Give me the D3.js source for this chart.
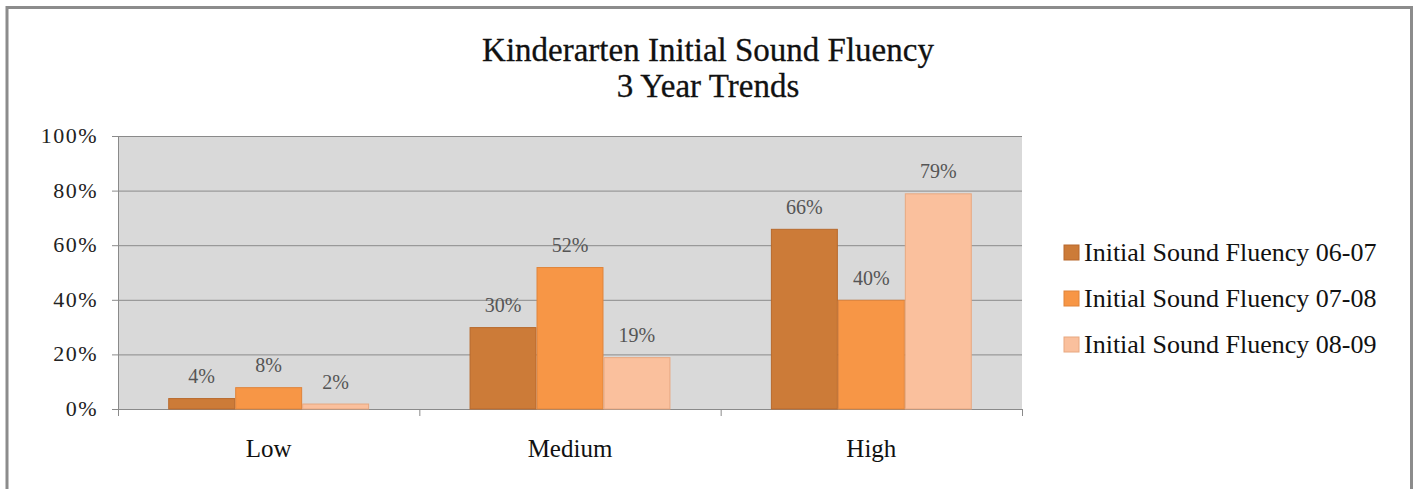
<!DOCTYPE html>
<html>
<head>
<meta charset="utf-8">
<script src="https://cdn.jsdelivr.net/npm/d3@7"></script>
<style>
body { margin: 0; background: #fff; }
text { font-family: "Liberation Serif", "DejaVu Serif", serif; }
</style>
</head>
<body>
<div id="chart"></div>
<script>
// data
var categories = ["Low", "Medium", "High"];
var seriesNames = ["Initial Sound Fluency 06-07", "Initial Sound Fluency 07-08", "Initial Sound Fluency 08-09"];
var values0607 = [4, 30, 66];
var values0708 = [8, 52, 40];
var values0809 = [2, 19, 79];
var yTicks = [0, 20, 40, 60, 80, 100];

var colors = ["#cc7b38", "#f79646", "#fac09d"];
var strokes = ["#b8692c", "#e0843a", "#e8a880"];

var svgWidth = 1416;
var svgHeight = 489;

var margin = {top: 136, left: 118, right: 394, bottom: 80};
var width = svgWidth - margin.left - margin.right;
var height = 409 - margin.top;

var svg = d3.select("#chart")
    .append("svg")
    .attr("width", svgWidth)
    .attr("height", svgHeight);

// outer frame (bottom edge runs off the picture)
svg.append("path")
    .attr("d", "M7,495 L7,7.5 L1411.5,7.5 L1411.5,495")
    .attr("fill", "none")
    .attr("stroke", "#8c8c8c")
    .attr("stroke-width", 3);

// title
var title = svg.append("text")
    .attr("x", 708)
    .attr("text-anchor", "middle")
    .attr("font-size", 33)
    .attr("fill", "#111")
    .attr("stroke", "#111")
    .attr("stroke-width", 0.3);
title.append("tspan").attr("x", 708).attr("y", 61).text("Kinderarten Initial Sound Fluency");
title.append("tspan").attr("x", 708).attr("y", 97).text("3 Year Trends");

var chartGroup = svg.append("g")
    .attr("transform", `translate(${margin.left}, ${margin.top})`);

var x0 = d3.scaleBand()
    .domain(categories)
    .range([0, width]);

var x1 = d3.scaleBand()
    .domain(seriesNames)
    .range([0, x0.bandwidth()])
    .paddingOuter(0.75);

var y = d3.scaleLinear()
    .domain([0, 100])
    .range([height, 0]);

// plot background
chartGroup.append("rect")
    .attr("x", 0)
    .attr("y", 0)
    .attr("width", width)
    .attr("height", height)
    .attr("fill", "#d9d9d9");

// gridlines
chartGroup.selectAll(".grid")
    .data(yTicks)
    .enter()
    .append("line")
    .attr("x1", -6)
    .attr("x2", width)
    .attr("y1", d => y(d) + 0.5)
    .attr("y2", d => y(d) + 0.5)
    .attr("stroke", "#8a8a8a")
    .attr("stroke-width", 1);

// y axis labels
chartGroup.selectAll(".ylab")
    .data(yTicks)
    .enter()
    .append("text")
    .attr("x", -20)
    .attr("y", d => y(d) + 7)
    .attr("text-anchor", "end")
    .attr("font-size", 22)
    .attr("letter-spacing", 1.5)
    .attr("fill", "#222")
    .text(d => d + "%");

// y axis line
chartGroup.append("line")
    .attr("x1", 0.5).attr("x2", 0.5)
    .attr("y1", 0).attr("y2", height)
    .attr("stroke", "#8a8a8a");

// x axis tick marks
var xTickPos = categories.map(c => x0(c)).concat([width]);
chartGroup.selectAll(".xtick")
    .data(xTickPos)
    .enter()
    .append("line")
    .attr("x1", d => d + 0.5)
    .attr("x2", d => d + 0.5)
    .attr("y1", height)
    .attr("y2", height + 7)
    .attr("stroke", "#8a8a8a");

// x labels
chartGroup.selectAll(".xlab")
    .data(categories)
    .enter()
    .append("text")
    .attr("x", d => x0(d) + x0.bandwidth() / 2)
    .attr("y", height + 48)
    .attr("text-anchor", "middle")
    .attr("font-size", 25)
    .attr("fill", "#111")
    .text(d => d);

var allSeries = [values0607, values0708, values0809];

var groups = chartGroup.selectAll(".cat")
    .data(categories)
    .enter()
    .append("g")
    .attr("transform", d => `translate(${x0(d)}, 0)`);

groups.selectAll("rect")
    .data((c, i) => allSeries.map((vals, s) => ({s: s, name: seriesNames[s], v: vals[i]})))
    .enter()
    .append("rect")
    .attr("x", d => x1(d.name) + 0.5)
    .attr("y", d => y(d.v) + 0.5)
    .attr("width", x1.bandwidth() - 1)
    .attr("height", d => height - y(d.v) - 0.5)
    .attr("fill", d => colors[d.s])
    .attr("stroke", d => strokes[d.s])
    .attr("stroke-width", 1);

groups.selectAll(".vlab")
    .data((c, i) => allSeries.map((vals, s) => ({s: s, name: seriesNames[s], v: vals[i]})))
    .enter()
    .append("text")
    .attr("x", d => x1(d.name) + x1.bandwidth() / 2)
    .attr("y", d => y(d.v) - 15)
    .attr("text-anchor", "middle")
    .attr("font-size", 20)
    .attr("fill", "#555")
    .text(d => d.v + "%");

// legend
var legend = svg.append("g")
    .attr("transform", "translate(1064, 253)");

var items = legend.selectAll(".item")
    .data(seriesNames)
    .enter()
    .append("g")
    .attr("transform", (d, i) => `translate(0, ${i * 46})`);

items.append("rect")
    .attr("x", 0)
    .attr("y", -8)
    .attr("width", 15)
    .attr("height", 15)
    .attr("fill", (d, i) => colors[i])
    .attr("stroke", (d, i) => strokes[i]);

items.append("text")
    .attr("x", 20)
    .attr("y", 8)
    .attr("font-size", 26)
    .attr("fill", "#111")
    .text(d => d);
</script>
</body>
</html>
